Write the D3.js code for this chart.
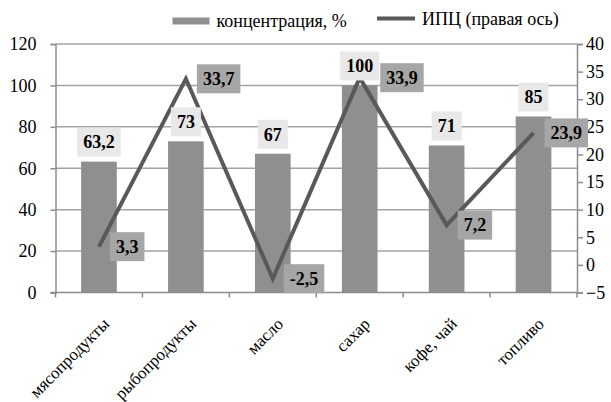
<!DOCTYPE html>
<html>
<head>
<meta charset="utf-8">
<script src="https://cdn.jsdelivr.net/npm/d3@7"></script>
<style>
  body { margin: 0; background: #fff; }
  svg text { font-family: "Liberation Serif", "Times New Roman", "DejaVu Serif", serif; }
</style>
</head>
<body>
<div class="chart-container"></div>
<script>
var categories = ["мясопродукты", "рыбопродукты", "масло", "сахар", "кофе, чай", "топливо"];
var concentration = [63.2, 73, 67, 100, 71, 85];
var cpi = [3.3, 33.7, -2.5, 33.9, 7.2, 23.9];
var leftTicks = [0, 20, 40, 60, 80, 100, 120];
var rightTicks = [-5, 0, 5, 10, 15, 20, 25, 30, 35, 40];
var seriesNames = ["концентрация, %", "ИПЦ (правая ось)"];

var width = 611, height = 402;
var plot = {left: 55.5, right: 577, top: 44, bottom: 292.5};

var svg = d3.select(".chart-container").append("svg")
    .attr("width", width)
    .attr("height", height);

var x = d3.scaleBand()
    .domain(categories)
    .range([plot.left, plot.right])
    .padding(0);

var y = d3.scaleLinear()
    .domain([0, 120])
    .range([plot.bottom, plot.top]);

var y2 = d3.scaleLinear()
    .domain([-5, 40])
    .range([plot.bottom, plot.top]);

var barW = x.bandwidth() * 0.41;
var fmt = function(v) { return String(v).replace(".", ","); };

// gridlines
svg.append("g")
    .selectAll("line")
    .data(leftTicks.slice(1))
  .enter().append("line")
    .attr("x1", plot.left)
    .attr("x2", plot.right)
    .attr("y1", function(d) { return y(d); })
    .attr("y2", function(d) { return y(d); })
    .attr("stroke", "#a3a3a3")
    .attr("stroke-width", 1.5);

// left axis
var leftAxis = svg.append("g")
    .attr("transform", "translate(" + plot.left + ",0)")
    .call(d3.axisLeft(y).tickValues(leftTicks).tickSize(5).tickPadding(14));
// right axis
var rightAxis = svg.append("g")
    .attr("transform", "translate(" + plot.right + ",0)")
    .call(d3.axisRight(y2).tickValues(rightTicks).tickSize(6).tickPadding(3)
      .tickFormat(function(d) { return d < 0 ? "\u2212" + Math.abs(d) : d; }));

[leftAxis, rightAxis].forEach(function(a) {
  a.attr("font-family", null);
  a.selectAll("path").attr("stroke", "#8c8c8c").attr("stroke-width", 1.5);
  a.selectAll("line").attr("stroke", "#8c8c8c").attr("stroke-width", 1.5);
  a.selectAll("text").attr("fill", "#000").style("font-size", "18px");
});

// bars
svg.append("g")
    .selectAll("rect")
    .data(concentration)
  .enter().append("rect")
    .attr("x", function(d, i) { return x(categories[i]) + (x.bandwidth() - barW) / 2; })
    .attr("y", function(d) { return y(d); })
    .attr("width", barW)
    .attr("height", function(d) { return plot.bottom - y(d); })
    .attr("fill", "#8f8f8f");

// bottom axis
var xAxis = svg.append("g")
    .attr("transform", "translate(0," + plot.bottom + ")");
xAxis.append("line")
    .attr("x1", plot.left - 5).attr("x2", plot.right)
    .attr("stroke", "#8c8c8c").attr("stroke-width", 1.5);
xAxis.selectAll(".tk")
    .data(categories.concat(["end"]))
  .enter().append("line")
    .attr("class", "tk")
    .attr("x1", function(d, i) { return plot.left + i * x.step(); })
    .attr("x2", function(d, i) { return plot.left + i * x.step(); })
    .attr("y1", 0).attr("y2", 5)
    .attr("stroke", "#8c8c8c").attr("stroke-width", 1.5);
xAxis.selectAll("text")
    .data(categories)
  .enter().append("text")
    .attr("transform", function(d) {
      return "translate(" + (x(d) + x.bandwidth() / 2 + 3) + ",24) rotate(-45)";
    })
    .attr("text-anchor", "end")
    .attr("dy", "0.7em")
    .style("font-size", "17px")
    .text(function(d) { return d; });

// line
var cx = function(i) { return x(categories[i]) + x.bandwidth() / 2; };
var line = d3.line()
    .x(function(d, i) { return cx(i); })
    .y(function(d) { return y2(d); });
svg.append("path")
    .datum(cpi)
    .attr("d", line)
    .attr("fill", "none")
    .attr("stroke", "#595959")
    .attr("stroke-width", 4)
    .attr("stroke-linejoin", "miter");

// data labels (boxes)
var boxes = [];
function label(g, txt, cxp, cyp, anchor, fill) {
  var t = g.append("text")
      .attr("font-weight", "bold")
      .style("font-size", "18px")
      .text(txt);
  var w = t.node().getComputedTextLength();
  var bw = w + 12, bh = 29;
  var bx = anchor === "right" ? cxp : cxp - bw / 2;
  var by = anchor === "right" ? cyp - bh / 2 : cyp - bh;
  // nudge right-hand labels past any box they would overlap
  if (anchor === "right") {
    boxes.forEach(function(b) {
      if (bx < b.x + b.w && bx + bw > b.x && by < b.y + b.h && by + bh > b.y) bx = b.x + b.w + 1;
    });
  }
  boxes.push({x: bx, y: by, w: bw, h: bh});
  g.insert("rect", "text:last-child")
    .attr("x", bx).attr("y", by).attr("width", bw).attr("height", bh)
    .attr("fill", fill);
  t.attr("x", bx + 6).attr("y", by + bh / 2).attr("dy", "0.35em");
}

var labels = svg.append("g");
concentration.forEach(function(d, i) {
  label(labels.append("g"), fmt(d), cx(i), y(d) - 5, "top", "#e8e8e8");
});
cpi.forEach(function(d, i) {
  label(labels.append("g"), fmt(d), cx(i) + 11, y2(d), "right", "#a6a6a6");
});

// legend
var legend = svg.append("g");
legend.append("rect")
    .attr("x", 172.5).attr("y", 17.5).attr("width", 37).attr("height", 7)
    .attr("fill", "#8f8f8f");
legend.append("text")
    .attr("x", 216.5).attr("y", 21).attr("dy", "0.35em")
    .style("font-size", "18px")
    .text(seriesNames[0]);
legend.append("line")
    .attr("x1", 377).attr("x2", 415).attr("y1", 18.5).attr("y2", 18.5)
    .attr("stroke", "#595959").attr("stroke-width", 4);
legend.append("text")
    .attr("x", 422).attr("y", 19).attr("dy", "0.35em")
    .style("font-size", "18px")
    .text(seriesNames[1]);
</script>
</body>
</html>
